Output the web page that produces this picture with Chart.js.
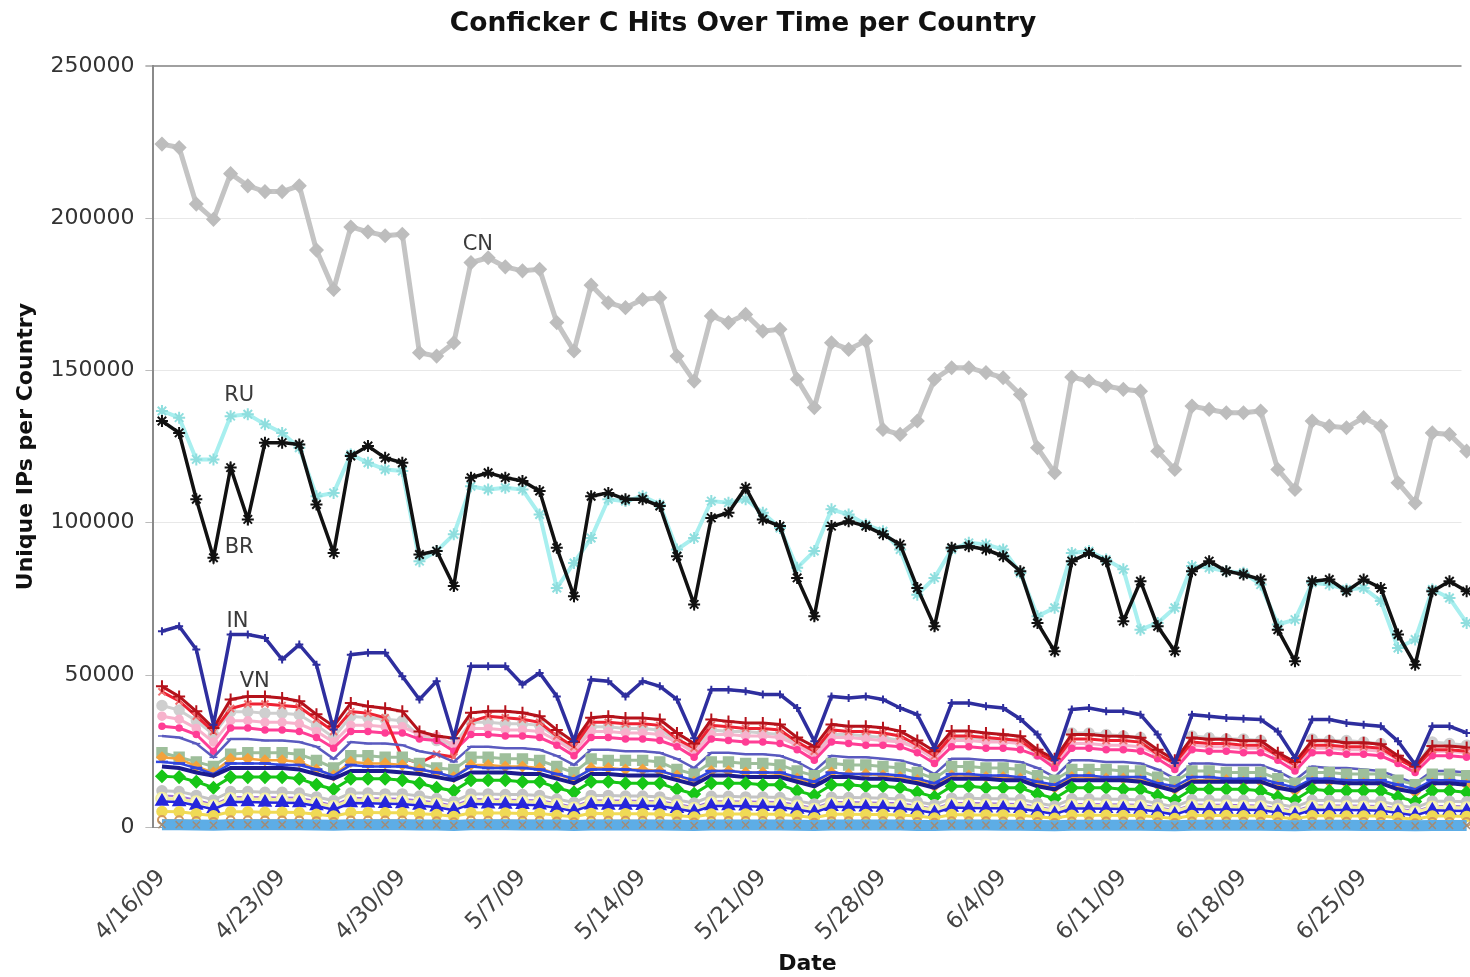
<!DOCTYPE html>
<html>
<head>
<meta charset="utf-8">
<title>Conficker C Hits Over Time per Country</title>
<script src="https://cdn.jsdelivr.net/npm/chart.js@4.4.1/dist/chart.umd.min.js"></script>
<style>
  html, body { margin: 0; padding: 0; background: #fff; }
  canvas { display: block; }
</style>
</head>
<body>
<canvas id="grafico" width="1470" height="977"></canvas>
<script>
// dates, one per day (4/16/09 is a Thursday)
const dates = [
  '4/16/09','4/17/09','4/18/09','4/19/09','4/20/09','4/21/09','4/22/09',
  '4/23/09','4/24/09','4/25/09','4/26/09','4/27/09','4/28/09','4/29/09',
  '4/30/09','5/1/09','5/2/09','5/3/09','5/4/09','5/5/09','5/6/09',
  '5/7/09','5/8/09','5/9/09','5/10/09','5/11/09','5/12/09','5/13/09',
  '5/14/09','5/15/09','5/16/09','5/17/09','5/18/09','5/19/09','5/20/09',
  '5/21/09','5/22/09','5/23/09','5/24/09','5/25/09','5/26/09','5/27/09',
  '5/28/09','5/29/09','5/30/09','5/31/09','6/1/09','6/2/09','6/3/09',
  '6/4/09','6/5/09','6/6/09','6/7/09','6/8/09','6/9/09','6/10/09',
  '6/11/09','6/12/09','6/13/09','6/14/09','6/15/09','6/16/09','6/17/09',
  '6/18/09','6/19/09','6/20/09','6/21/09','6/22/09','6/23/09','6/24/09',
  '6/25/09','6/26/09','6/27/09','6/28/09','6/29/09','6/30/09','7/1/09'
];
// weekly tick labels (index into dates)
const tickDays = [0, 7, 14, 21, 28, 35, 42, 49, 56, 63, 70];
const yTicks = [0, 50000, 100000, 150000, 200000, 250000];

const cn = [
  224300,223200,204600,199600,214600,210600,208700,
  208700,210600,189500,176600,197100,195500,194200,
  194700,155800,154700,159100,185400,187000,184000,
  182700,183200,165700,156400,178000,172200,170600,
  173300,173900,154700,146500,167900,165700,168400,
  162900,163500,147100,137800,159100,156900,159700,
  130600,129000,133400,147100,150900,150900,149300,
  147600,142100,124600,116400,147800,146500,144900,
  143800,143200,123500,117500,138300,137200,136100,
  136100,136700,117500,110900,133400,131700,131200,
  134500,131700,113100,106500,129500,129000,123500
];
const ru = [
  136700,134500,120800,120800,135000,135600,132300,
  129500,124600,108700,109800,122400,119700,117500,
  117000,87400,90700,96200,112000,110900,111500,
  110900,102700,78600,86800,95000,107700,107100,
  108700,106000,91200,95000,107100,106600,107700,
  103300,98300,85200,90700,104400,102700,99400,
  97200,91200,76400,81900,91200,93400,92900,
  91200,83500,69300,72100,90100,90700,87900,
  84700,64900,67100,72100,85800,85200,84100,
  83600,79700,66600,68200,80300,79700,78100,
  78600,74300,58900,61700,78100,75300,67100
];
const br = [
  133400,129500,107700,88500,118100,101100,126300,
  126300,125700,106000,90100,121900,125200,121300,
  119700,89600,90700,79200,114800,116400,114800,
  113700,110400,91800,75900,108700,109800,107700,
  107700,105500,89000,73200,101600,103300,111500,
  101100,98900,81900,69300,98900,100500,98900,
  96200,92900,78600,66000,91800,92300,91200,
  89000,84100,67100,57800,87400,90100,87400,
  67700,80800,66000,57800,84100,87400,84100,
  83000,81400,64900,54500,80800,81400,77500,
  81400,78600,63300,53400,77500,80800,77500
];
const inSeries = [
  64400,66000,58400,33700,63300,63300,62200,
  55100,60000,53400,32100,56700,57300,57300,
  49600,42000,48000,29300,52900,52900,52900,
  46900,50700,43000,28300,48500,48000,43000,
  48000,46300,42000,29300,45200,45200,44700,
  43600,43600,39200,28300,43000,42500,43000,
  42000,39200,37000,26100,40800,40800,39800,
  39200,35600,30500,22000,38700,39200,38100,
  38100,37000,30500,21100,37000,36500,35900,
  35700,35400,31500,22800,35400,35400,34300,
  33700,33200,28300,20600,33200,33200,31000
];
const vn = [
  46300,43000,38100,32600,42000,43000,43000,
  42500,41400,37100,33200,40800,39800,39100,
  38100,31500,30000,29300,37600,38100,38100,
  37600,36500,32000,28000,36000,36500,35900,
  35900,35400,31000,27500,35400,34800,34300,
  34300,33800,29500,26500,33800,33200,33200,
  32700,31600,28500,25000,31600,31600,31000,
  30500,29900,25500,22500,30500,30500,30000,
  29900,29400,25500,22000,29400,28900,28900,
  28400,28400,24500,21500,28400,28400,27800,
  27800,27300,23500,20000,26700,26700,26200
];
const redX = [
  44500,41500,36500,31500,39000,40500,40500,
  40000,39500,35500,31500,38000,37500,36000,
  22800,21100,24000,23100,34800,36500,36000,
  35500,34500,30000,26500,34500,34500,34000,
  34000,33500,29000,26000,33500,33000,32500,
  32500,32000,28000,25000,32000,31500,31500,
  31000,30000,27000,23500,30000,30000,29500,
  29000,28500,24500,21500,29000,29000,28500,
  28500,28000,24000,21000,28000,27500,27500,
  27000,27000,23500,20500,27000,27000,26500,
  26500,26000,22500,19500,25500,25500,25000
];
const grayHigh = [
  40000,38500,35000,30500,38000,38000,37500,
  37500,37000,33500,29500,36500,36000,35500,
  35000,30000,28500,27000,34500,34500,34000,
  34000,33500,29500,26000,33000,33000,32500,
  32500,32000,28500,25500,32000,31500,31500,
  31000,30500,27000,24000,30500,30500,30000,
  29500,28500,26000,22500,29500,29500,29000,
  28500,28000,24000,21000,31000,31000,30500,
  30000,29500,24000,20500,30000,29500,29000,
  29000,28500,23500,20000,29000,28500,28500,
  28000,27500,22500,19500,28000,27500,27000
];
const lightPink = [
  36500,35500,32500,28000,35000,35000,34500,
  34500,34000,31500,28000,33500,33500,33000,
  33000,30500,30000,27000,32500,32500,32000,
  32000,31500,28500,25000,31500,31500,31000,
  31000,30500,28000,24500,30500,30500,30000,
  30000,29500,27000,23500,29500,29500,29000,
  28500,28000,26000,22500,28500,28500,28000,
  28000,27500,25000,21000,27500,27500,27000,
  27000,26500,24000,20500,27000,26500,26500,
  26000,26000,23500,20000,26000,26000,25500,
  25500,25000,22500,19500,25000,25000,24500
];
const hotPink = [
  33200,32600,30500,25000,32600,32600,32000,
  32000,31500,29500,26000,31500,31500,31000,
  31000,29000,28500,25000,30500,30500,30000,
  30000,29500,27000,23500,29500,29500,29000,
  29000,28500,26500,23000,29000,28500,28000,
  28000,27500,25500,22000,28000,27500,27000,
  27000,26500,24500,21000,26500,26500,26000,
  26000,25500,23500,19500,26000,26000,25500,
  25500,25000,22500,19000,25500,25000,25000,
  24500,24500,22000,18500,24500,24500,24000,
  24000,23500,21000,18000,23500,23500,23000
];
const slate = [
  30000,29500,27500,23000,29000,29000,28500,
  28500,28000,26500,22500,28000,27500,27500,
  27000,25000,24000,21500,26500,26500,26000,
  26000,25500,23500,20500,25500,25500,25000,
  25000,24500,22500,19500,24500,24500,24000,
  24000,23500,21500,18500,23500,23000,23000,
  22500,22000,20500,17500,22500,22500,22000,
  22000,21500,19500,16500,22000,22000,21500,
  21500,21000,19000,16000,21000,21000,20500,
  20500,20500,18500,15500,20000,19500,19500,
  19000,18500,16500,14500,18500,18500,18000
];
const sage = [
  24500,23000,21500,20000,24000,24500,24500,
  24500,24000,22000,19500,23500,23500,23000,
  23000,21000,19500,19000,23000,23000,22500,
  22500,22000,20000,18000,22500,22000,22000,
  22000,21500,19000,17500,21500,21500,21000,
  21000,20500,18500,17000,21000,20500,20500,
  20000,19500,18000,16000,20000,20000,19500,
  19500,19000,17000,15500,19000,19000,19000,
  18500,18500,16500,15000,18500,18500,18000,
  18000,18000,16000,14500,18000,18000,17500,
  17500,17500,15500,14000,17500,17500,17000
];
const orange = [
  23000,22500,20000,18000,22500,22500,22000,
  22000,21500,19000,17000,21500,21000,21000,
  20500,19000,18000,16500,20500,20500,20000,
  20000,19500,17500,15500,19500,19500,19000,
  19000,18500,17000,15000,18500,18500,18000,
  18000,17500,16000,14500,18000,17500,17500,
  17000,16500,15500,13500,17000,17000,16500,
  16500,16000,14500,13000,16500,16500,16000,
  16000,15500,14000,12500,15500,15500,15500,
  15000,15000,13500,12000,15000,15000,14500,
  14500,14500,13000,11500,14500,14500,14000
];
const blueDash = [
  21500,21000,19500,17500,21000,21000,21000,
  20500,20500,19000,17000,20500,20000,20000,
  20000,19000,18000,16500,20000,19500,19500,
  19500,19000,17500,16000,19000,19000,19000,
  18500,18500,17000,15500,18500,18500,18000,
  18000,18000,16500,15000,18000,17500,17500,
  17500,17000,16000,14500,17500,17500,17000,
  17000,16500,15000,14000,17000,17000,16500,
  16500,16500,14500,13500,16500,16500,16000,
  16000,16000,14500,13000,16000,16000,15500,
  15500,15500,14000,12500,15500,15500,15000
];
const navy = [
  20000,19500,18000,17000,19500,19500,19500,
  19500,19000,17500,16000,18500,18500,18500,
  18000,17500,16500,15500,18000,18000,18000,
  17500,17500,16000,14500,17500,17500,17000,
  17000,17000,15500,14000,17000,17000,16500,
  16500,16500,15000,13500,16500,16500,16000,
  16000,15500,14500,13000,16000,16000,16000,
  15500,15500,13500,12500,15500,15500,15500,
  15500,15000,13500,12000,15000,15000,15000,
  15000,15000,13000,12000,15000,15000,14500,
  14500,14500,12500,11500,14500,14500,14000
];
const green = [
  16800,16500,15000,13000,16500,16500,16500,
  16500,16000,14000,12500,16000,16000,16000,
  15500,14500,13000,12000,15500,15500,15500,
  15000,15000,13000,11500,15000,15000,14500,
  14500,14500,12500,11000,14500,14500,14500,
  14000,14000,12000,10500,14000,14000,13500,
  13500,13000,11500,10000,13500,13500,13000,
  13000,13000,11000,9500,13000,13000,13000,
  12500,12500,10500,9000,12500,12500,12500,
  12500,12000,10000,9000,12500,12000,12000,
  12000,12000,10000,8500,12000,12000,11500
];
const grayLow = [
  12000,11800,10500,9000,11800,11800,11500,
  11500,11300,10000,8800,11300,11300,11000,
  11000,10300,9500,8500,11000,11000,10800,
  10800,10500,9300,8200,10500,10500,10300,
  10300,10000,9000,8000,10200,10200,10000,
  10000,9800,8700,7700,9900,9800,9700,
  9600,9300,8400,7400,9600,9600,9400,
  9400,9200,8000,7000,9400,9400,9200,
  9200,9000,7800,6800,9100,9000,9000,
  8900,8800,7600,6600,8900,8800,8700,
  8700,8600,7300,6400,8600,8600,8400
];
const purple = [
  10500,10200,9000,7500,10000,10000,9900,
  9800,9700,8600,7300,9700,9600,9500,
  9400,8800,8200,7100,9300,9200,9100,
  9000,8900,7900,6800,8900,8800,8800,
  8700,8600,7700,6600,8600,8600,8500,
  8400,8300,7400,6400,8300,8300,8200,
  8100,7900,7100,6100,8000,8000,7900,
  7800,7700,6800,5800,7700,7700,7600,
  7500,7400,6600,5600,7500,7400,7400,
  7300,7200,6400,5400,7300,7200,7200,
  7100,7000,6200,5300,7000,7000,6900
];
const paleYellow = [
  9500,9300,8300,7000,9300,9300,9200,
  9100,9000,8000,6800,9000,8900,8800,
  8700,8200,7600,6600,8700,8600,8500,
  8400,8300,7400,6300,8300,8200,8200,
  8100,8000,7100,6100,8000,8000,7900,
  7800,7700,6900,5900,7800,7700,7600,
  7500,7300,6600,5700,7500,7400,7300,
  7300,7100,6300,5400,7200,7200,7100,
  7000,6900,6100,5200,7000,6900,6900,
  6800,6700,5900,5000,6800,6700,6700,
  6600,6500,5700,4900,6600,6500,6400
];
const triangles = [
  8500,8300,7200,6000,8300,8300,8200,
  8100,8000,7000,5800,8000,7900,7800,
  7700,7200,6600,5600,7700,7600,7500,
  7400,7300,6400,5300,7300,7200,7200,
  7100,7000,6100,5100,7000,7000,6900,
  6800,6700,5900,4900,6800,6700,6600,
  6500,6300,5600,4700,6500,6400,6300,
  6300,6100,5300,4400,6200,6200,6100,
  6000,5900,5100,4200,6000,5900,5900,
  5800,5700,4900,4000,5800,5700,5700,
  5600,5500,4700,3900,5600,5500,5400
];
const yellow = [
  5200,5100,4500,3800,5100,5100,5000,
  5000,4900,4300,3700,4900,4900,4800,
  4800,4500,4200,3600,4800,4700,4700,
  4600,4600,4000,3500,4600,4500,4500,
  4500,4400,3900,3400,4400,4400,4400,
  4300,4300,3800,3200,4300,4300,4200,
  4200,4100,3700,3100,4200,4100,4100,
  4100,4000,3500,3000,4000,4000,4000,
  3900,3900,3400,2900,3900,3900,3900,
  3800,3800,3300,2800,3800,3800,3700,
  3700,3700,3200,2700,3700,3700,3600
];
const brown = [
  2400,2350,2100,1800,2350,2350,2300,
  2300,2300,2050,1750,2300,2250,2250,
  2250,2100,2000,1700,2250,2200,2200,
  2200,2200,1950,1650,2200,2150,2150,
  2150,2100,1900,1600,2100,2100,2100,
  2100,2050,1850,1550,2050,2050,2000,
  2000,2000,1800,1500,2000,2000,2000,
  1950,1950,1750,1450,1950,1950,1950,
  1900,1900,1700,1400,1900,1900,1900,
  1850,1850,1650,1400,1850,1850,1850,
  1800,1800,1600,1350,1800,1800,1800
];
const skyBlue = [
  900,900,800,700,900,900,900,
  900,900,800,700,850,850,850,
  850,800,750,650,850,850,850,
  800,800,750,650,800,800,800,
  800,800,700,600,800,800,800,
  750,750,700,600,750,750,750,
  750,750,650,600,750,750,750,
  700,700,650,550,700,700,700,
  700,700,650,550,700,700,700,
  700,700,600,550,700,700,700,
  650,650,600,500,650,650,650
];

// country labels written inside the plot (anchored in data coordinates)
const countryLabels = [
  { text: 'CN', day: 18.4, value: 191200 },
  { text: 'RU', day: 4.5, value: 141900 },
  { text: 'BR', day: 4.5, value: 92000 },
  { text: 'IN', day: 4.4, value: 67700 },
  { text: 'VN', day: 5.4, value: 48000 }
];

const FONT = '"DejaVu Sans", Verdana, sans-serif';

const serie = (label, values, color, opts) => Object.assign({
  label: label,
  data: values.map((v, i) => ({ x: i, y: v })),
  borderColor: color,
  backgroundColor: color,
  pointBackgroundColor: color,
  pointBorderColor: color,
  borderWidth: 3,
  pointRadius: 4,
  pointBorderWidth: 1.5,
  pointStyle: 'circle',
  tension: 0,
  fill: false
}, opts || {});

// first dataset ends up on top
const datasets = [
  serie('sky', skyBlue, '#5dade6', { borderWidth: 11, pointStyle: 'crossRot', pointRadius: 5, pointBorderColor: '#a08c78', pointBorderWidth: 1.5 }),
  serie('brown', brown, '#d49a5c', { borderWidth: 2, pointRadius: 4, pointBackgroundColor: 'rgba(0,0,0,0)', pointBorderWidth: 2 }),
  serie('yellow', yellow, '#f0da55', { pointRadius: 5 }),
  serie('triangles', triangles, '#2626dc', { borderWidth: 2.5, pointStyle: 'triangle', pointRadius: 7 }),
  serie('paleYellow', paleYellow, '#f3efa0', { pointRadius: 6, pointBackgroundColor: '#f8f6c8' }),
  serie('purple', purple, '#a070da', { borderWidth: 2, pointStyle: 'line', pointRadius: 4 }),
  serie('grayLow', grayLow, '#c4c4c4', { pointRadius: 5 }),
  serie('green', green, '#17c617', { pointStyle: 'rectRot', pointRadius: 6 }),
  serie('navy', navy, '#1c1c8e', { borderWidth: 4, pointRadius: 0 }),
  serie('CN', cn, '#c4c4c4', { borderWidth: 5, pointStyle: 'rectRot', pointRadius: 6.5, pointBackgroundColor: '#bdbdbd', pointBorderColor: '#bdbdbd' }),
  serie('BR', br, '#111111', { borderWidth: 3.5, pointStyle: 'star', pointRadius: 6, pointBorderWidth: 2 }),
  serie('RU', ru, '#a8efef', { borderWidth: 4, pointStyle: 'star', pointRadius: 6, pointBorderWidth: 2, pointBorderColor: '#8fdede' }),
  serie('IN', inSeries, '#2e2e9e', { borderWidth: 3.5, pointStyle: 'cross', pointRadius: 4, pointBorderWidth: 2 }),
  serie('blueDash', blueDash, '#3046e0', { borderWidth: 2.5, pointStyle: 'line', pointRadius: 6, pointBorderWidth: 2.5 }),
  serie('orange', orange, '#f3a23c', { borderWidth: 2.5, pointStyle: 'rectRot', pointRadius: 5 }),
  serie('sage', sage, '#9ebf9b', { pointStyle: 'rect', pointRadius: 7 }),
  serie('slate', slate, '#5a5abf', { borderWidth: 2.5, pointStyle: 'line', pointRadius: 4 }),
  serie('VN', vn, '#b5121b', { borderWidth: 3, pointStyle: 'cross', pointRadius: 6, pointBorderWidth: 2 }),
  serie('red', redX, '#ee2233', { borderWidth: 3, pointStyle: 'crossRot', pointRadius: 5, pointBorderWidth: 2, pointBorderColor: '#f07070' }),
  serie('hotPink', hotPink, '#ff3d95', { pointRadius: 3 }),
  serie('lightPink', lightPink, '#f7b2cc', { pointRadius: 4 }),
  serie('grayHigh', grayHigh, '#cfcfcf', { pointRadius: 5 })
];

const countryLabelPlugin = {
  id: 'countryLabels',
  afterDatasetsDraw(chart) {
    const ctx = chart.ctx;
    const x = chart.scales.x;
    const y = chart.scales.y;
    ctx.save();
    ctx.font = '21px ' + FONT;
    ctx.fillStyle = '#3a3a3a';
    ctx.textAlign = 'center';
    ctx.textBaseline = 'middle';
    countryLabels.forEach(l => {
      ctx.fillText(l.text, x.getPixelForValue(l.day), y.getPixelForValue(l.value));
    });
    ctx.restore();
  }
};

const config = {
  type: 'line',
  data: { datasets: datasets },
  options: {
    responsive: false,
    devicePixelRatio: 1,
    animation: false,
    clip: false,
    layout: { padding: { left: 8, right: -8, top: 0, bottom: 0 } },
    plugins: {
      legend: { display: false },
      tooltip: { enabled: false },
      title: {
        display: true,
        text: 'Conficker C Hits Over Time per Country',
        color: '#111',
        font: { family: FONT, size: 26.5, weight: 'bold' },
        padding: { top: 8, bottom: 26 }
      }
    },
    scales: {
      x: {
        type: 'linear',
        min: -0.5,
        max: 75.7,
        afterBuildTicks: axis => { axis.ticks = tickDays.map(d => ({ value: d })); },
        // tick marks are hidden; tickLength only pushes the rotated labels down
        grid: { display: false, tickLength: 25 },
        border: { display: true, color: '#9a9a9a', width: 1 },
        ticks: {
          autoSkip: false,
          maxRotation: 45,
          minRotation: 45,
          padding: 12,
          color: '#444',
          font: { family: FONT, size: 23 },
          callback: v => dates[v]
        },
        title: {
          display: true,
          text: 'Date',
          color: '#111',
          font: { family: FONT, size: 22, weight: 'bold' },
          padding: { top: -8, bottom: 0 }
        }
      },
      y: {
        min: 0,
        max: 250000,
        afterBuildTicks: axis => { axis.ticks = yTicks.map(v => ({ value: v })); },
        grid: {
          color: c => (c.tick && c.tick.value === 250000) ? '#a0a0a0' : '#e8e8e8',
          lineWidth: c => (c.tick && c.tick.value === 250000) ? 2 : 1,
          tickColor: '#bbbbbb',
          tickLength: 8
        },
        border: { display: true, color: '#8a8a8a', width: 2 },
        ticks: {
          padding: 11,
          color: '#333',
          font: { family: FONT, size: 22 },
          callback: v => String(v)
        },
        title: {
          display: true,
          text: 'Unique IPs per Country',
          color: '#111',
          font: { family: FONT, size: 22, weight: 'bold' },
          padding: { top: 5, bottom: 0 }
        }
      }
    }
  },
  plugins: [countryLabelPlugin]
};

const grafico = new Chart(document.getElementById('grafico'), config);
</script>
</body>
</html>
